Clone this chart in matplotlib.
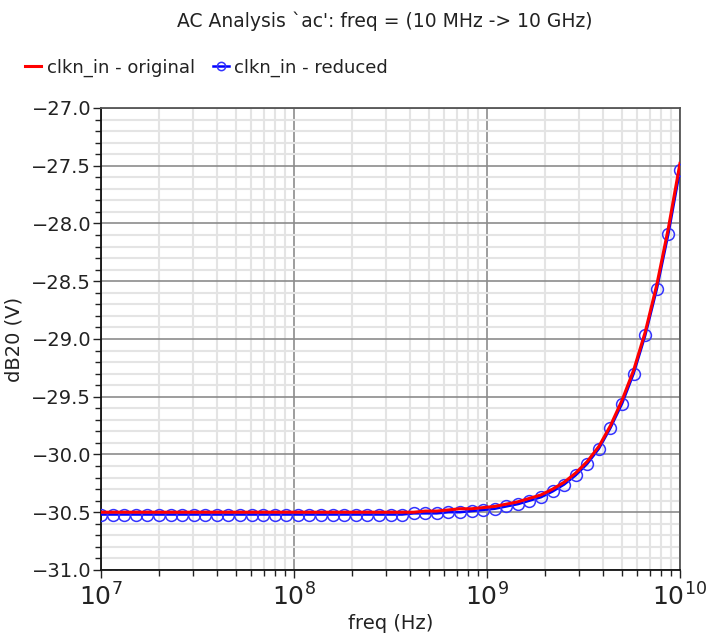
import numpy as np
import matplotlib
matplotlib.use("Agg")
import matplotlib.pyplot as plt
from matplotlib.ticker import MultipleLocator, LogLocator, NullFormatter, FuncFormatter

# sweep: 51 log-spaced points 10 MHz -> 10 GHz
freq = np.logspace(7, 10, 51)

original = [-30.50] * 28 + [
    -30.49, -30.49, -30.48, -30.47, -30.47, -30.46, -30.45, -30.43, -30.41,
    -30.38, -30.35, -30.30, -30.24, -30.16, -30.06, -29.93, -29.75, -29.53,
    -29.27, -28.94, -28.53, -28.04, -27.48]

reduced = [-30.52] * 27 + [
    -30.51, -30.51, -30.51, -30.50, -30.50, -30.49, -30.48, -30.47, -30.45,
    -30.43, -30.40, -30.37, -30.32, -30.26, -30.18, -30.08, -29.95, -29.77,
    -29.56, -29.30, -28.97, -28.57, -28.09, -27.54]

title = "AC Analysis `ac': freq = (10 MHz -> 10 GHz)"
label_orig = "clkn_in - original"
label_red = "clkn_in - reduced"

fig = plt.figure(figsize=(7.1, 6.35), dpi=100)
ax = fig.add_axes([0.1423, 0.1024, 0.8154, 0.7276])

ax.plot(freq, reduced, color="#0000ff", lw=1.8, marker="o", ms=8.5,
        mfc="none", mec="#3333ff", mew=1.1, label=label_red, zorder=3)
ax.plot(freq, original, color="#ff0000", lw=2.2, label=label_orig, zorder=4)

ax.set_xscale("log")
ax.set_xlim(1e7, 1e10)
ax.set_ylim(-31.0, -27.0)

ax.yaxis.set_major_locator(MultipleLocator(0.5))
ax.yaxis.set_minor_locator(MultipleLocator(0.1))
ax.yaxis.set_major_formatter(FuncFormatter(lambda v, p: f"{v:.1f}".replace("-", "\u2212")))
ax.xaxis.set_major_locator(LogLocator(base=10, numticks=10))
ax.xaxis.set_minor_locator(LogLocator(base=10, subs=np.arange(2, 10), numticks=20))
ax.xaxis.set_minor_formatter(NullFormatter())

ax.grid(which="minor", color="#e4e4e4", lw=1.5, zorder=0)
ax.grid(which="major", color="#8c8c8c", lw=1.2, zorder=1)
ax.set_axisbelow(True)

ax.tick_params(axis="both", which="major", direction="out", length=6, width=1, colors="#222222")
ax.tick_params(axis="both", which="minor", direction="out", length=4, width=1, colors="#222222")
ax.tick_params(axis="y", labelsize=14, pad=1)
ax.tick_params(axis="x", labelsize=18, pad=4)
for lab in ax.get_yticklabels() + ax.get_xticklabels():
    lab.set_color("#222222")

for s in ["left", "bottom"]:
    ax.spines[s].set_color("#111111")
    ax.spines[s].set_linewidth(1.3)
for s in ["top", "right"]:
    ax.spines[s].set_color("#555555")
    ax.spines[s].set_linewidth(1.3)

ax.set_xlabel("freq (Hz)", fontsize=14, color="#222222", labelpad=2)
ax.set_ylabel("dB20 (V)", fontsize=14, color="#222222", labelpad=6)

fig.text(0.542, 0.966, title, ha="center", va="center", fontsize=13.5, color="#222222")

h_red, l_red = ax.get_legend_handles_labels()
leg = fig.legend([h_red[1], h_red[0]], [l_red[1], l_red[0]], loc="center left",
                 bbox_to_anchor=(0.025, 0.893), ncol=2, frameon=False, fontsize=13,
                 handlelength=0.9, handletextpad=0.3, columnspacing=1.0,
                 borderaxespad=0, markerscale=0.7)
for t in leg.get_texts():
    t.set_color("#222222")

fig.savefig("out.png", dpi=100)
